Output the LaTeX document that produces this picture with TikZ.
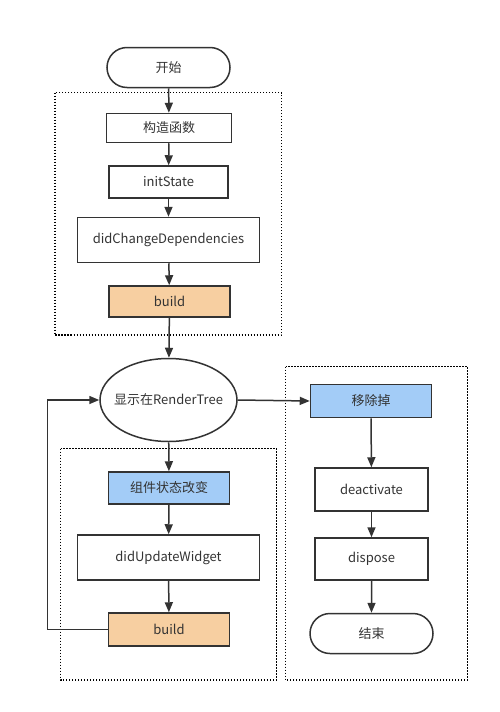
\documentclass[tikz,border=0pt]{standalone}
\usepackage{fontspec}
\setmainfont{Noto Sans CJK SC}
\usetikzlibrary{arrows.meta,shapes.geometric,shapes.misc}
\definecolor{LineClr}{rgb}{0.2,0.2,0.2}
\definecolor{BuildClr}{rgb}{0.97,0.81,0.63}
\definecolor{EventClr}{rgb}{0.64,0.80,0.97}

\begin{document}
\begin{tikzpicture}[x=1pt,y=-1pt,
  font=\fontsize{13}{15}\selectfont,
  every node/.style={text=LineClr,inner sep=0pt},
  box/.style={draw=LineClr,line width=1.5pt,minimum height=31pt},
  pill/.style={rounded rectangle,draw=LineClr,line width=1.5pt,minimum width=123pt,minimum height=40pt},
  group/.style={draw=black,line width=1.4pt,dash pattern=on 1.4pt off 1.6pt},
  flow/.style={draw=LineClr,line width=1.5pt,-{Triangle[length=10pt,width=8pt]}}]
\useasboundingbox (0,0) rectangle (499,712);

% phases
\draw[group] (55,92.5) rectangle (281.5,335);
\draw[group] (60.5,448.5) rectangle (276.5,680);
\draw[group] (285.5,366.5) rectangle (467.5,680);

% creation
\node[pill] (start) at (168.5,67.5) {开始};
\node[box,minimum width=125pt,minimum height=29pt] (ctor) at (169,128) {构造函数};
\node[box,minimum width=119pt,minimum height=32pt] (init) at (168.5,182) {initState};
\node[box,minimum width=182pt,minimum height=45pt] (deps) at (168.5,240) {didChangeDependencies};
\node[box,fill=BuildClr,minimum width=121pt] (build) at (169.5,301.5) {build};

% render tree
\node[ellipse,draw=LineClr,line width=1.5pt,inner xsep=-12pt,minimum width=137pt,minimum height=83pt] (show) at (168.5,400) {显示在RenderTree};

% update
\node[box,fill=EventClr,minimum width=121pt,minimum height=32pt] (change) at (169,488) {组件状态改变};
\node[box,minimum width=182pt,minimum height=45pt] (update) at (168.5,557.5) {didUpdateWidget};
\node[box,fill=BuildClr,minimum width=121pt,minimum height=33pt] (rebuild) at (169,629.5) {build};
\coordinate (loop) at (47.5,629.5);

% removal
\node[box,fill=EventClr,minimum width=121pt,minimum height=33pt] (remove) at (371,401) {移除掉};
\node[box,minimum width=113pt,minimum height=43pt] (deact) at (371.5,489.5) {deactivate};
\node[box,minimum width=113pt,minimum height=42pt] (dispose) at (371.5,559) {dispose};
\node[pill] (stop) at (371.5,633.5) {结束};

\draw[flow] (start) -- (ctor);
\draw[flow] (ctor) -- (init);
\draw[flow] (init) -- (deps);
\draw[flow] (deps) -- (build);
\draw[flow] (build) -- (show);
\draw[flow] (show) -- (change);
\draw[flow] (change) -- (update);
\draw[flow] (update) -- (rebuild);
\draw[flow] (rebuild.west) -- (loop) |- (show.west);
\draw[flow] (show.east) -- (remove.west);
\draw[flow] (remove) -- (deact);
\draw[flow] (deact) -- (dispose);
\draw[flow] (dispose) -- (stop);

\end{tikzpicture}
\end{document}
